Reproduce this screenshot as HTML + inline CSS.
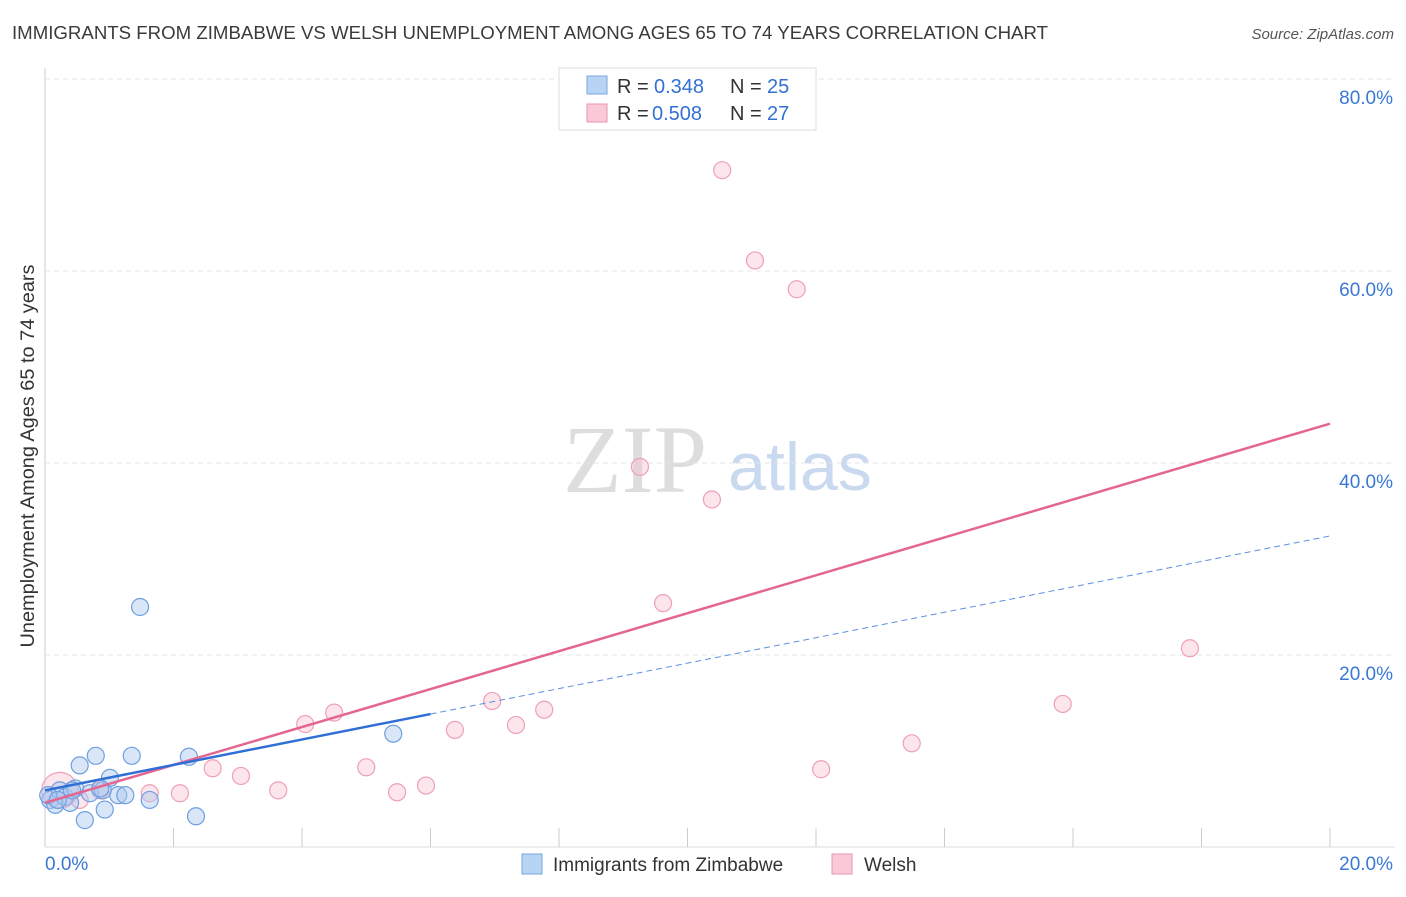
<!DOCTYPE html>
<html><head><meta charset="utf-8"><style>
body{margin:0;background:#fff;font-family:"Liberation Sans",sans-serif}
</style></head><body>
<svg width="1406" height="892" id="svg" xmlns="http://www.w3.org/2000/svg">
<text x="12" y="39" font-size="18" fill="#3a3a3a" textLength="1036" lengthAdjust="spacingAndGlyphs">IMMIGRANTS FROM ZIMBABWE VS WELSH UNEMPLOYMENT AMONG AGES 65 TO 74 YEARS CORRELATION CHART</text>
<text x="1394" y="39" font-size="15" fill="#555" font-style="italic" text-anchor="end">Source: ZipAtlas.com</text>
<text x="635" y="492" font-size="96" fill="#ddd" font-family="Liberation Serif,serif" text-anchor="middle">ZIP</text>
<text x="800" y="490" font-size="68" fill="#c9d9ef" text-anchor="middle">atlas</text>
<text transform="translate(34,456) rotate(-90)" font-size="19" fill="#333" text-anchor="middle" textLength="383" lengthAdjust="spacingAndGlyphs">Unemployment Among Ages 65 to 74 years</text>
<g id="grid"></g><g id="marks"></g>
<g>
<rect x="559" y="68" width="257" height="62" fill="#fff" stroke="#ddd"/>
<rect x="587" y="76" width="20" height="18" fill="#b8d4f5" stroke="#7aa6e0"/>
<rect x="587" y="104" width="20" height="18" fill="#f9c9d7" stroke="#eb95b0"/>
<text x="617" y="93" font-size="20" fill="#333">R =</text>
<text x="654" y="93" font-size="20" fill="#3370d4">0.348</text>
<text x="730" y="93" font-size="20" fill="#333">N =</text>
<text x="767" y="93" font-size="20" fill="#3370d4">25</text>
<text x="617" y="120" font-size="20" fill="#333">R =</text>
<text x="652" y="120" font-size="20" fill="#3370d4">0.508</text>
<text x="730" y="120" font-size="20" fill="#333">N =</text>
<text x="767" y="120" font-size="20" fill="#3370d4">27</text>
</g>
<g>
<rect x="522" y="854" width="20" height="20" fill="#b8d4f5" stroke="#7aa6e0"/>
<text x="553" y="871" font-size="19" fill="#333">Immigrants from Zimbabwe</text>
<rect x="832" y="854" width="20" height="20" fill="#f9c9d7" stroke="#eb95b0"/>
<text x="864" y="871" font-size="19" fill="#333">Welsh</text>
</g>
</svg>
<script>
const xTicks=[0,20];
const yTicks=[20,40,60,80];
const blueX=[0.08,0.16,0.23,0.31,0.39,0.47,0.54,0.62,0.70,0.79,0.90,0.93,1.01,1.14,1.25,1.35,1.48,1.63,2.24,2.35,5.42,0.05,0.20,0.86,0.42];
const blueY=[4.9,4.4,5.9,5.2,4.6,6.1,8.5,2.8,5.6,9.5,5.9,3.9,7.2,5.4,5.4,9.5,25.0,4.9,9.4,3.2,11.8,5.4,4.9,6.1,5.9];
const pinkX=[0.23,0.54,0.86,1.63,2.10,2.61,3.05,3.63,4.05,4.50,5.00,5.48,5.93,6.38,6.96,7.33,7.77,9.62,9.26,10.38,10.54,11.05,11.70,12.08,13.49,15.84,17.82];
const pinkY=[5.9,4.9,5.9,5.6,5.6,8.2,7.4,5.9,12.8,14.0,8.3,5.7,6.4,12.2,15.2,12.7,14.3,25.4,39.6,36.2,70.5,61.1,58.1,8.1,10.8,14.9,20.7];
const blueTrend=[5.9,32.4];
const pinkTrend=[4.6,44.1];
const blueSolidEnd=6.0;
const X=v=>45+v*64.25, Y=v=>847-v*9.6;
const NS="http://www.w3.org/2000/svg";
function mk(p,t,a){const e=document.createElementNS(NS,t);for(const k in a)e.setAttribute(k,a[k]);p.appendChild(e);return e;}
const g=document.getElementById('grid'),m=document.getElementById('marks');
let ax=mk(g,'line',{x1:45,y1:68,x2:45,y2:847,stroke:'#ccc'});

let bx=mk(g,'line',{x1:45,y1:847,x2:1395,y2:847,stroke:'#ddd'});

for(let i=1;i<=10;i++){const t=mk(g,'line',{x1:X(i*2),x2:X(i*2),y1:828,y2:847,stroke:'#ccc'});
}
yTicks.forEach(v=>{const l=mk(g,'line',{x1:45,x2:1395,y1:Y(v),y2:Y(v),stroke:'#e4e4e4','stroke-dasharray':'5,4'});

const t=mk(g,'text',{x:1393,y:Y(v)+25,'font-size':19,fill:'#3a78d4','text-anchor':'end'});t.textContent=v.toFixed(1)+'%';
});
xTicks.forEach((v,i)=>{const t=mk(g,'text',{x:i?1393:45,y:870,'font-size':19,fill:'#3a78d4','text-anchor':i?'end':'start'});t.textContent=v.toFixed(1)+'%';
});
pinkX.forEach((x,i)=>{const c=mk(m,'circle',{cx:X(x),cy:Y(pinkY[i]),r:i==0?18:8.5,fill:'rgba(249,190,208,0.4)',stroke:'#eea0b8','stroke-width':1.2});
});
blueX.forEach((x,i)=>{const c=mk(m,'circle',{cx:X(x),cy:Y(blueY[i]),r:8.5,fill:'rgba(170,200,240,0.45)',stroke:'#6f9fdf','stroke-width':1.2});
});
const by=x=>blueTrend[0]+(blueTrend[1]-blueTrend[0])*x/20;
let l1=mk(m,'line',{x1:X(0),y1:Y(pinkTrend[0]),x2:X(20),y2:Y(pinkTrend[1]),stroke:'#e46690','stroke-width':2.5});

let l2=mk(m,'line',{x1:X(0),y1:Y(by(0)),x2:X(blueSolidEnd),y2:Y(by(blueSolidEnd)),stroke:'#2f6fd6','stroke-width':2.5});

let l3=mk(m,'line',{x1:X(blueSolidEnd),y1:Y(by(blueSolidEnd)),x2:X(20),y2:Y(by(20)),stroke:'#5b8fe0','stroke-width':1,'stroke-dasharray':'6,4'});

</script>
</body></html>
